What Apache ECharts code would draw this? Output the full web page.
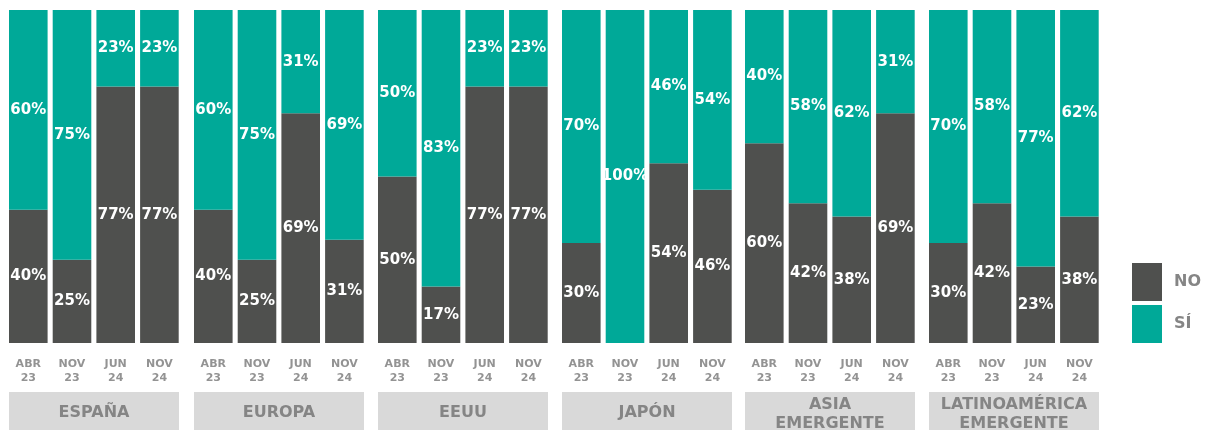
<!DOCTYPE html>
<html>
<head>
<meta charset="utf-8">
<script src="https://cdn.jsdelivr.net/npm/echarts@6/dist/echarts.min.js"></script>
<style>
html,body{margin:0;padding:0;background:#fff;}
#chart{width:1205px;height:430px;}
</style>
</head>
<body>
<div id="chart"></div>
<script>
const categories = ['ABR\n23', 'NOV\n23', 'JUN\n24', 'NOV\n24'];
const groups = ['ESPAÑA', 'EUROPA', 'EEUU', 'JAPÓN', 'ASIA\nEMERGENTE', 'LATINOAMÉRICA\nEMERGENTE'];
const noValues = [
  [40, 25, 77, 77],
  [40, 25, 69, 31],
  [50, 17, 77, 77],
  [30, 0, 54, 46],
  [60, 42, 38, 69],
  [30, 42, 23, 38]
];
const siValues = [
  [60, 75, 23, 23],
  [60, 75, 31, 69],
  [50, 83, 23, 23],
  [70, 100, 46, 54],
  [40, 58, 62, 31],
  [70, 58, 77, 62]
];
const seriesNames = ['NO', 'SÍ'];

const FONT = 'DejaVu Sans';
const DARK = '#4f504e';
const TEAL = '#00a998';
const groupStarts = [9, 194, 378, 562, 745, 929];
const groupWidth = 170;
const pitch = 43.7;
const barW = 38.6;
const gridW = pitch * 4;
const offset = (pitch - barW) / 2;

const grids = [], xAxes = [], yAxes = [], series = [], graphics = [];
groups.forEach((g, i) => {
  grids.push({left: groupStarts[i] - offset, top: 10, width: gridW, height: 333});
  xAxes.push({
    type: 'category', gridIndex: i, data: categories,
    axisLine: {show: false}, axisTick: {show: false},
    axisLabel: {color: '#939393', fontFamily: FONT, fontSize: 11, fontWeight: 'bold', lineHeight: 14, margin: 14}
  });
  yAxes.push({type: 'value', gridIndex: i, min: 0, max: 100, show: false, splitLine: {show: false}});
  const label = {
    show: true, position: 'inside', color: '#fff', fontFamily: FONT, fontSize: 15, fontWeight: 'bold',
    formatter: p => p.value > 0 ? p.value + '%' : ''
  };
  series.push({
    name: seriesNames[0], type: 'bar', xAxisIndex: i, yAxisIndex: i, stack: 's' + i,
    data: noValues[i], barWidth: barW, itemStyle: {color: DARK}, label: label
  });
  series.push({
    name: seriesNames[1], type: 'bar', xAxisIndex: i, yAxisIndex: i, stack: 's' + i,
    data: siValues[i], barWidth: barW, itemStyle: {color: TEAL}, label: label
  });
  graphics.push({
    type: 'rect', left: groupStarts[i], top: 392,
    shape: {width: groupWidth, height: 40}, style: {fill: '#d9d9d9'}, silent: true
  });
  graphics.push({
    type: 'text', x: groupStarts[i] + groupWidth / 2, y: g.indexOf('\n') >= 0 ? 414 : 413,
    style: {
      text: g, fill: '#858585', font: 'bold 16px "' + FONT + '"',
      textAlign: 'center', textVerticalAlign: 'middle', lineHeight: 19
    },
    silent: true
  });
});

const chart = echarts.init(document.getElementById('chart'));
chart.setOption({
  animation: false,
  grid: grids,
  xAxis: xAxes,
  yAxis: yAxes,
  series: series,
  legend: {
    data: seriesNames, orient: 'vertical', left: 1132, top: 263, padding: 0,
    itemWidth: 30, itemHeight: 38, itemGap: 4, icon: 'rect',
    textStyle: {color: '#858585', fontFamily: FONT, fontSize: 16, fontWeight: 'bold', padding: [0, 0, 0, 7]}
  },
  graphic: graphics
});
</script>
</body>
</html>
